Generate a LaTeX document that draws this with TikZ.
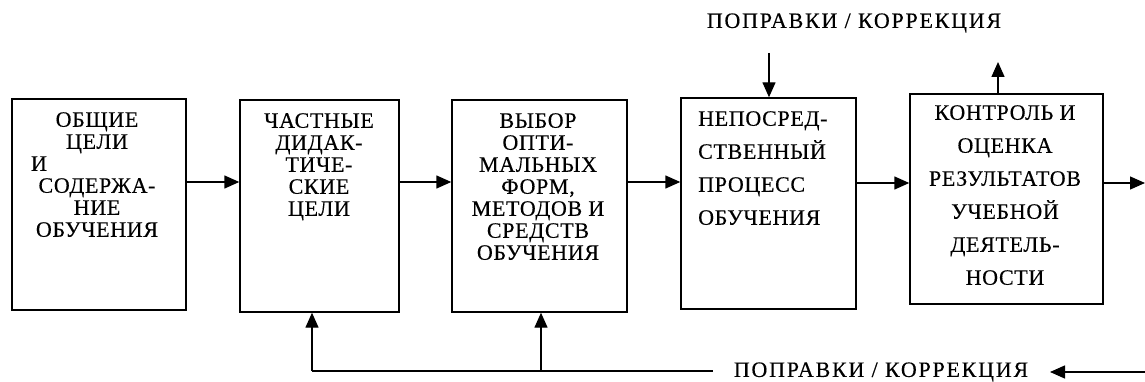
\documentclass[tikz,border=0pt]{standalone}
\usepackage{fontspec}
\setmainfont{Liberation Serif}[LetterSpace=3,FakeBold=0.3]
\newfontfamily\lblfont{Liberation Serif}[LetterSpace=8,FakeBold=0.3]
\usetikzlibrary{arrows.meta}
\begin{document}
\begin{tikzpicture}[x=1pt,y=-1pt,
  box/.style={draw, line width=1.4pt, inner sep=0pt},
  txt/.style={anchor=north, align=center, inner sep=0pt, font=\fontsize{22}{22}\selectfont},
  txtw/.style={align=center, inner sep=0pt, font=\fontsize{22}{33}\selectfont},
  lbl/.style={inner sep=0pt, font=\lblfont\fontsize{22}{22}\selectfont},
  arr/.style={line width=1.4pt, -{Triangle[length=15pt,width=13pt]}},
  ln/.style={line width=1.4pt}]
\useasboundingbox (0,0) rectangle (1145,382);
% boxes
\node[box, minimum width=174pt, minimum height=211pt] (b1) at (99,204.5) {};
\node[box, minimum width=159pt, minimum height=212pt] (b2) at (319.5,206) {};
\node[box, minimum width=175pt, minimum height=212pt] (b3) at (539.5,206) {};
\node[box, minimum width=175pt, minimum height=211pt] (b4) at (768.5,203.5) {};
\node[box, minimum width=193pt, minimum height=210pt] (b5) at (1006.5,199) {};
% texts
\node[txt] (t1) at (97,112) {ОБЩИЕ\\ЦЕЛИ\\\makebox[132pt][l]{И}\\СОДЕРЖА-\\НИЕ\\ОБУЧЕНИЯ};
\node[txt] (t2) at (319,113) {ЧАСТНЫЕ\\ДИДАК-\\ТИЧЕ-\\СКИЕ\\ЦЕЛИ};
\node[txt] (t3) at (538,113) {ВЫБОР\\ОПТИ-\\МАЛЬНЫХ\\ФОРМ,\\МЕТОДОВ И\\СРЕДСТВ\\ОБУЧЕНИЯ};
\node[txtw, anchor=north west, align=left] (t4) at (698,111) {НЕПОСРЕД-\\СТВЕННЫЙ\\ПРОЦЕСС\\ОБУЧЕНИЯ};
\node[txtw, anchor=north] (t5) at (1005,105) {КОНТРОЛЬ И\\ОЦЕНКА\\РЕЗУЛЬТАТОВ\\УЧЕБНОЙ\\ДЕЯТЕЛЬ-\\НОСТИ};
% labels
\node[lbl] (top) at (854,23) {ПОПРАВКИ / КОРРЕКЦИЯ};
\node[lbl] (bot) at (881,372) {ПОПРАВКИ / КОРРЕКЦИЯ};
% main flow
\coordinate (m) at (0,182);
\coordinate (m2) at (0,183);
\draw[arr] (b1.east|-m) -- (b2.west|-m);
\draw[arr] (b2.east|-m) -- (b3.west|-m);
\draw[arr] (b3.east|-m) -- (b4.west|-m);
\draw[arr] (b4.east|-m2) -- (b5.west|-m2);
\coordinate (out) at (1145,183);
\draw[arr] (b5.east|-out) -- (out);
% top arrows
\coordinate (ta) at (769,53);
\draw[arr] (ta) -- (ta|-b4.north);
\coordinate (tb) at (998,62);
\draw[arr] (tb|-b5.north) -- (tb);
% bottom feedback
\coordinate (c1) at (312,371);
\coordinate (c2) at (541,371);
\coordinate (c3) at (713,371);
\draw[ln] (c1) -- (c3);
\draw[arr] (c1) -- (c1|-b2.south);
\draw[arr] (c2) -- (c2|-b3.south);
\coordinate (r1) at (1145,372);
\coordinate (r2) at (1050,372);
\draw[arr] (r1) -- (r2);
\end{tikzpicture}
\end{document}
